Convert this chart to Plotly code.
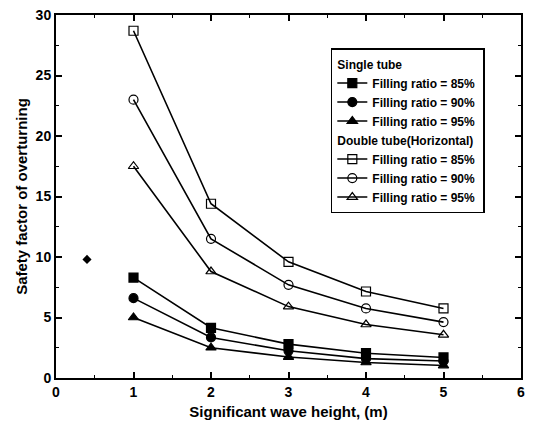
import plotly.graph_objects as go

wave_height = [1, 2, 3, 4, 5]

single_85 = [8.3, 4.15, 2.8, 2.05, 1.7]
single_90 = [6.6, 3.35, 2.25, 1.6, 1.4]
single_95 = [5.0, 2.5, 1.73, 1.28, 1.03]
double_85 = [28.7, 14.4, 9.6, 7.15, 5.75]
double_90 = [23.0, 11.5, 7.7, 5.75, 4.62]
double_95 = [17.5, 8.8, 5.9, 4.42, 3.57]

artifact_x = [0.4]
artifact_y = [9.8]

labels = ["Filling ratio = 85%", "Filling ratio = 90%", "Filling ratio = 95%"]

FONT = "Liberation Sans"
fig = go.Figure()

single = [single_85, single_90, single_95]
double = [double_85, double_90, double_95]
single_sym = ["square", "circle", "triangle-up"]
double_sym = ["square-open", "circle-open", "triangle-up-open"]

gt_font = dict(family=FONT, size=12, color="black", weight="bold")

for i, (ys, sym) in enumerate(zip(single, single_sym)):
    fig.add_trace(go.Scatter(
        x=wave_height, y=ys, mode="lines+markers", name=labels[i],
        line=dict(color="black", width=1.6),
        marker=dict(symbol=sym, size=9, color="black", line=dict(color="black", width=1.2)),
        legendgroup="single",
        legendgrouptitle=dict(text="Single tube", font=gt_font),
    ))
for i, (ys, sym) in enumerate(zip(double, double_sym)):
    fig.add_trace(go.Scatter(
        x=wave_height, y=ys, mode="lines+markers", name=labels[i],
        line=dict(color="black", width=1.6),
        marker=dict(symbol=sym, size=9, color="black", line=dict(color="black", width=1.2)),
        legendgroup="double",
        legendgrouptitle=dict(text="Double tube(Horizontal)", font=gt_font),
    ))

fig.add_trace(go.Scatter(
    x=artifact_x, y=artifact_y, mode="markers", showlegend=False,
    marker=dict(symbol="diamond", size=7, color="black"), hoverinfo="skip",
))

axis_common = dict(
    showline=True, linecolor="black", linewidth=2, mirror="ticks",
    ticks="inside", ticklen=6, tickwidth=1.5, tickcolor="black",
    showgrid=False, zeroline=False, automargin=False,
    tickfont=dict(family=FONT, size=14, color="black", weight="bold"),
)

fig.update_layout(
    width=545, height=430,
    margin=dict(l=56, r=24, t=15, b=52),
    paper_bgcolor="white", plot_bgcolor="white",
    font=dict(family=FONT, color="black"),
    xaxis=dict(
        range=[0, 6], dtick=1,
        minor=dict(dtick=0.5, ticks="inside", ticklen=3, tickcolor="black", tickwidth=1.2),
        title=dict(text="<b>Significant wave height, (m)</b>", font=dict(family=FONT, size=15, color="black"), standoff=8),
        **axis_common,
    ),
    yaxis=dict(
        range=[0, 30], dtick=5,
        minor=dict(dtick=2.5, ticks="inside", ticklen=3, tickcolor="black", tickwidth=1.2),
        title=dict(text="<b>Safety factor of overturning</b>", font=dict(family=FONT, size=15, color="black"), standoff=4),
        **axis_common,
    ),
    legend=dict(
        x=0.591, y=0.909, xanchor="left", yanchor="top",
        bordercolor="black", borderwidth=1.5, bgcolor="white",
        font=dict(family=FONT, size=12, color="black", weight="bold"),
        tracegroupgap=0, itemwidth=30,
    ),
)

fig.write_html(
    "out.html",
    config={"displayModeBar": False},
    post_script="document.body.style.margin='0px';document.body.style.overflow='hidden';",
)
